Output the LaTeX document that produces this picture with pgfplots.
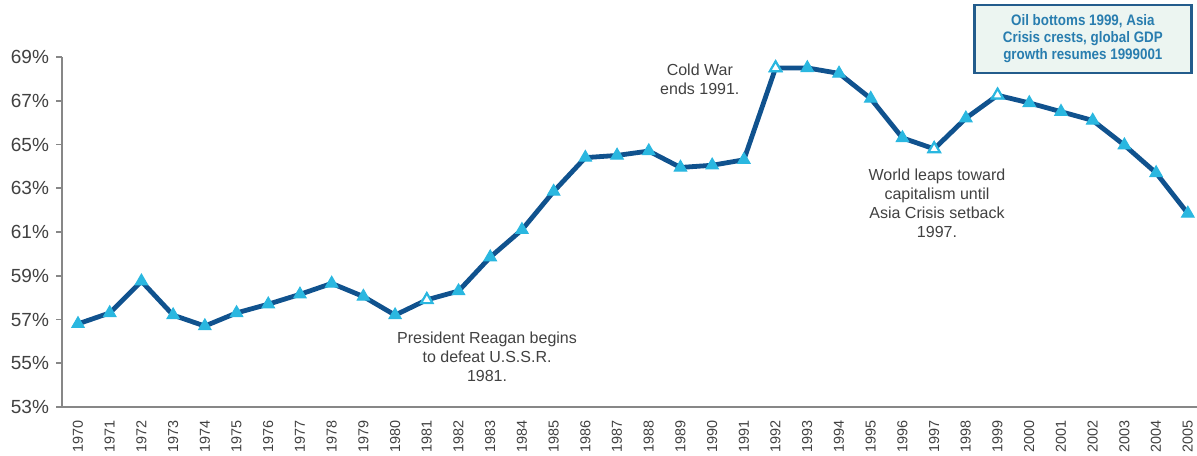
\documentclass[border=0pt]{standalone}
\usepackage{pgfplots}
\usepackage{pgfplotstable}
\pgfplotsset{compat=1.18}
\usepackage{fontspec}
\setmainfont{Liberation Sans}
\newfontfamily\boxfont{Liberation Sans}[FakeStretch=0.88]

\definecolor{lineblue}{RGB}{16,82,142}
\definecolor{markcyan}{RGB}{42,183,224}
\definecolor{txtgray}{RGB}{65,65,65}
\definecolor{axisgray}{RGB}{135,135,135}
\definecolor{boxblue}{RGB}{35,92,140}
\definecolor{boxfill}{RGB}{236,245,241}
\definecolor{boxtext}{RGB}{40,125,175}

% share by year
\pgfplotstableread{
year share
1970 56.8
1971 57.3
1972 58.75
1973 57.2
1974 56.7
1975 57.3
1976 57.7
1977 58.15
1978 58.65
1979 58.05
1980 57.2
1981 57.9
1982 58.3
1983 59.85
1984 61.1
1985 62.85
1986 64.4
1987 64.5
1988 64.7
1989 63.95
1990 64.05
1991 64.3
1992 68.5
1993 68.5
1994 68.25
1995 67.1
1996 65.3
1997 64.8
1998 66.2
1999 67.25
2000 66.9
2001 66.5
2002 66.1
2003 64.97
2004 63.7
2005 61.85
}\sharedata

% turning-point years, drawn with open markers
\pgfplotstableread{
year share
1981 57.9
1992 68.5
1997 64.8
1999 67.25
}\keyyears

\begin{document}
\begin{tikzpicture}
\begin{axis}[
  scale only axis,
  width=567.5pt, height=175pt,
  xmin=1969.495, xmax=2005.29,
  ymin=53, ymax=69,
  axis x line*=bottom, axis y line*=left,
  axis line style={axisgray, line width=0.8pt},
  xtick={1970,...,2005},
  minor x tick num=1,
  ytick={53,55,...,69},
  tick style={axisgray, line width=0.8pt},
  major x tick style={draw=none},
  major tick length=3pt, minor tick length=3.5pt,
  tick align=outside,
  /pgf/number format/assume math mode=true,
  x tick label style={rotate=90, anchor=east, font=\fontsize{7.2}{8}\selectfont,
    text=txtgray, /pgf/number format/1000 sep={}},
  y tick label style={font=\fontsize{9.5}{11}\selectfont, text=txtgray},
  yticklabel={\pgfmathprintnumber{\tick}\%},
  clip=false,
]
\addplot[lineblue, line width=2.4pt,
  mark=triangle*, mark size=3.6pt,
  mark options={solid, fill=markcyan, draw=markcyan, line width=0.5pt}]
  table[x=year, y=share] {\sharedata};
\addplot[only marks, mark=triangle*, mark size=3.3pt,
  mark options={fill=white, draw=markcyan, line width=1.1pt}]
  table[x=year, y=share] {\keyyears};

\node[align=center, font=\fontsize{8}{9.5}\selectfont, text=txtgray]
  at (axis cs:1989.61,67.99) {Cold War\\ends 1991.};
\node[align=center, font=\fontsize{8}{9.5}\selectfont, text=txtgray]
  at (axis cs:1982.9,55.29) {President Reagan begins\\to defeat U.S.S.R.\\1981.};
\node[align=center, font=\fontsize{8}{9.5}\selectfont, text=txtgray]
  at (axis cs:1997.09,62.33) {World leaps toward\\capitalism until\\Asia Crisis setback\\1997.};
\node[draw=boxblue, line width=1.2pt, fill=boxfill, align=center,
  minimum width=108.5pt, minimum height=34pt, inner sep=2pt,
  font=\boxfont\bfseries\fontsize{7.6}{8.5}\selectfont, text=boxtext]
  at (axis cs:2001.69,69.82) {Oil bottoms 1999, Asia\\Crisis crests, global GDP\\growth resumes 1999001};
\end{axis}
\pgfresetboundingbox
\useasboundingbox (-31pt,-24pt) rectangle (567.5pt,203.5pt);
\end{tikzpicture}
\end{document}
